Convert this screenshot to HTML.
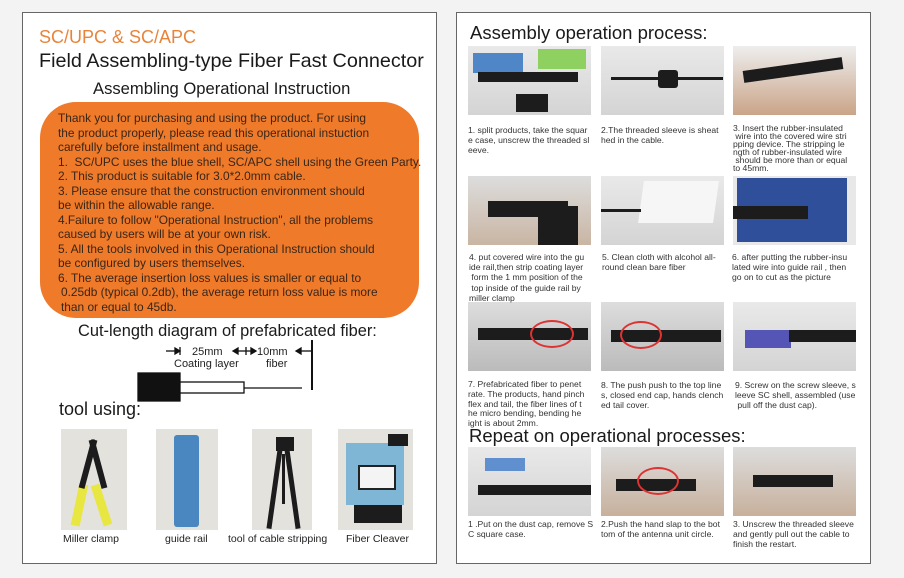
<!DOCTYPE html>
<html><head><meta charset="utf-8"><style>
*{margin:0;padding:0;box-sizing:border-box}
body{width:904px;height:578px;background:#f3f3f3;position:relative;overflow:hidden;font-family:"Liberation Sans",sans-serif;color:#222}
.panel{position:absolute;background:#fff;border:1px solid #666}
.a{position:absolute;white-space:nowrap}
.ob{position:absolute;left:40px;top:102px;width:379px;height:216px;background:#ee7a2a;border-radius:36px}
.ob div{position:absolute;left:18px;font-size:11.9px;color:#3a2618;white-space:nowrap}
.img{position:absolute;width:123px;height:69px;background:linear-gradient(#e9e9e9,#d4d4d4);overflow:hidden}
.cap{position:absolute;font-size:8.6px;line-height:10.2px;color:#333;width:126px}
.tool{position:absolute;top:429px;height:101px;background:#e4e2dc;overflow:hidden}
.tl{position:absolute;top:533px;font-size:10.5px;color:#222;white-space:nowrap}
.blk{position:absolute;background:#1c1c1c}
</style></head><body>
<div class="panel" style="left:22px;top:12px;width:415px;height:552px"></div>
<div class="panel" style="left:456px;top:12px;width:415px;height:552px"></div>

<div class="a" style="left:39px;top:27px;font-size:18px;color:#e8843a">SC/UPC &amp; SC/APC</div>
<div class="a" style="left:39px;top:50px;font-size:19.8px;color:#1a1a1a">Field Assembling-type Fiber Fast Connector</div>
<div class="a" style="left:93px;top:79px;font-size:16.6px;color:#1a1a1a">Assembling Operational Instruction</div>
<div class="ob">
<div style="top:9px">Thank you for purchasing and using the product. For using</div>
<div style="top:24px">the product properly, please read this operational instuction</div>
<div style="top:38px">carefully before installment and usage.</div>
<div style="top:53px">1.&nbsp; SC/UPC uses the blue shell, SC/APC shell using the Green Party.</div>
<div style="top:67px">2. This product is suitable for 3.0*2.0mm cable.</div>
<div style="top:82px">3. Please ensure that the construction environment should</div>
<div style="top:96px">be within the allowable range.</div>
<div style="top:111px">4.Failure to follow "Operational Instruction", all the problems</div>
<div style="top:125px">caused by users will be at your own risk.</div>
<div style="top:140px">5. All the tools involved in this Operational Instruction should</div>
<div style="top:154px">be configured by users themselves.</div>
<div style="top:169px">6. The average insertion loss values is smaller or equal to</div>
<div style="top:183px;left:21px">0.25db (typical 0.2db), the average return loss value is more</div>
<div style="top:198px;left:21px">than or equal to 45db.</div>
</div>

<div class="a" style="left:78px;top:322px;font-size:16.4px;color:#1a1a1a">Cut-length diagram of prefabricated fiber:</div>
<svg style="position:absolute;left:0;top:0" width="450" height="420">
<g stroke="#111" stroke-width="1.3" fill="#111">
<line x1="166" y1="351" x2="180" y2="351"/><polygon points="180,351 175,348 175,354"/><line x1="180" y1="347" x2="180" y2="355"/>
<line x1="233" y1="351" x2="246" y2="351"/><polygon points="233,351 238,348 238,354"/><line x1="246" y1="351" x2="256" y2="351"/><polygon points="256,351 251,348 251,354"/><line x1="246" y1="347" x2="246" y2="355"/>
<line x1="296" y1="351" x2="312" y2="351"/><polygon points="296,351 301,348 301,354"/>
<line x1="312" y1="340" x2="312" y2="390" stroke-width="2"/>
<rect x="138" y="373" width="42" height="28"/>
<rect x="180" y="382" width="64" height="11" fill="#fff"/>
<line x1="244" y1="388" x2="302" y2="388"/>
</g>
<text x="192" y="355" font-size="11" font-family="Liberation Sans" fill="#222">25mm</text>
<text x="257" y="355" font-size="11" font-family="Liberation Sans" fill="#222">10mm</text>
<text x="174" y="367" font-size="11" font-family="Liberation Sans" fill="#222">Coating layer</text>
<text x="266" y="367" font-size="11" font-family="Liberation Sans" fill="#222">fiber</text>
</svg>
<div class="a" style="left:59px;top:399px;font-size:18px;color:#1a1a1a">tool using:</div>

<div class="tool" style="left:61px;width:66px"><div style="position:absolute;left:14px;top:55px;width:9px;height:42px;background:#e8e640;transform:rotate(12deg)"></div><div style="position:absolute;left:36px;top:55px;width:9px;height:42px;background:#e8e640;transform:rotate(-18deg)"></div><div class="blk" style="left:24px;top:10px;width:6px;height:50px;transform:rotate(15deg)"></div><div class="blk" style="left:34px;top:10px;width:6px;height:50px;transform:rotate(-15deg)"></div></div>
<div class="tool" style="left:156px;width:62px"><div style="position:absolute;left:18px;top:6px;width:25px;height:92px;background:#4a86c0;border-radius:3px"></div></div>
<div class="tool" style="left:252px;width:60px"><div class="blk" style="left:24px;top:8px;width:18px;height:14px"></div><div class="blk" style="left:20px;top:20px;width:5px;height:80px;transform:rotate(8deg)"></div><div class="blk" style="left:38px;top:20px;width:5px;height:80px;transform:rotate(-8deg)"></div><div class="blk" style="left:30px;top:25px;width:3px;height:50px"></div></div>
<div class="tool" style="left:338px;width:75px"><div style="position:absolute;left:8px;top:14px;width:58px;height:62px;background:#7fb6d6"></div><div class="blk" style="left:20px;top:36px;width:38px;height:25px;background:#f4f4f4;border:2px solid #222"></div><div class="blk" style="left:16px;top:76px;width:48px;height:18px"></div><div class="blk" style="left:50px;top:5px;width:20px;height:12px"></div></div>
<div class="tl" style="left:63px">Miller clamp</div>
<div class="tl" style="left:165px">guide rail</div>
<div class="tl" style="left:228px">tool of cable stripping</div>
<div class="tl" style="left:346px">Fiber Cleaver</div>

<div class="a" style="left:470px;top:22px;font-size:18.5px;color:#1a1a1a">Assembly operation process:</div>
<div class="a" style="left:469px;top:425px;font-size:18.5px;color:#1a1a1a">Repeat on operational processes:</div>

<!-- row1 -->
<div class="img" style="left:468px;top:46px"><div style="position:absolute;left:5px;top:7px;width:50px;height:20px;background:#4f86c8"></div><div style="position:absolute;left:70px;top:3px;width:48px;height:20px;background:#8ed160"></div><div class="blk" style="left:10px;top:26px;width:100px;height:10px"></div><div class="blk" style="left:48px;top:48px;width:32px;height:18px"></div></div>
<div class="img" style="left:601px;top:46px"><div class="blk" style="left:10px;top:31px;width:112px;height:3px"></div><div class="blk" style="left:57px;top:24px;width:20px;height:18px;border-radius:3px"></div></div>
<div class="img" style="left:733px;top:46px;background:linear-gradient(#eee,#caa488)"><div class="blk" style="left:10px;top:18px;width:100px;height:12px;transform:rotate(-8deg)"></div></div>
<!-- row2 -->
<div class="img" style="left:468px;top:176px;background:linear-gradient(#ddd,#c9b5a3)"><div class="blk" style="left:20px;top:25px;width:80px;height:16px"></div><div class="blk" style="left:70px;top:30px;width:40px;height:39px"></div></div>
<div class="img" style="left:601px;top:176px"><div style="position:absolute;left:40px;top:5px;width:75px;height:42px;background:#f6f6f6;transform:skewX(-8deg)"></div><div class="blk" style="left:0;top:33px;width:40px;height:3px"></div></div>
<div class="img" style="left:733px;top:176px;background:#e8e8e8"><div style="position:absolute;left:4px;top:2px;width:110px;height:64px;background:#2f4f9a"></div><div class="blk" style="left:0;top:30px;width:75px;height:13px"></div></div>
<!-- row3 -->
<div class="img" style="left:468px;top:302px;background:linear-gradient(#ddd,#bbb)"><div class="blk" style="left:10px;top:26px;width:110px;height:12px"></div><div style="position:absolute;left:62px;top:18px;width:44px;height:28px;border:2px solid #d33;border-radius:50%"></div></div>
<div class="img" style="left:601px;top:302px;background:linear-gradient(#ddd,#bbb)"><div class="blk" style="left:10px;top:28px;width:110px;height:12px"></div><div style="position:absolute;left:19px;top:19px;width:42px;height:28px;border:2px solid #d33;border-radius:50%"></div></div>
<div class="img" style="left:733px;top:302px"><div style="position:absolute;left:12px;top:28px;width:46px;height:18px;background:#5555b5"></div><div class="blk" style="left:56px;top:28px;width:67px;height:12px"></div></div>
<!-- row4 -->
<div class="img" style="left:468px;top:447px"><div style="position:absolute;left:17px;top:11px;width:40px;height:13px;background:#5f8fce"></div><div class="blk" style="left:10px;top:38px;width:113px;height:10px"></div></div>
<div class="img" style="left:601px;top:447px;background:linear-gradient(#ddd,#c7b09c)"><div class="blk" style="left:15px;top:32px;width:80px;height:12px"></div><div style="position:absolute;left:36px;top:20px;width:42px;height:28px;border:2px solid #d33;border-radius:50%"></div></div>
<div class="img" style="left:733px;top:447px;background:linear-gradient(#ddd,#c7b09c)"><div class="blk" style="left:20px;top:28px;width:80px;height:12px"></div></div>

<div class="cap" style="left:468px;top:125px">1. split products, take the squar<br>e case, unscrew the threaded sl<br>eeve.</div>
<div class="cap" style="left:601px;top:125px">2.The threaded sleeve is sheat<br>hed in the cable.</div>
<div class="cap" style="left:733px;top:124px;line-height:8px">3. Insert the rubber-insulated<br>&nbsp;wire into the covered wire stri<br>pping device. The stripping le<br>ngth of rubber-insulated wire<br>&nbsp;should be more than or equal<br>to 45mm.</div>
<div class="cap" style="left:469px;top:252px">4. put covered wire into the gu<br>ide rail,then strip coating layer<br>&nbsp;form the 1 mm position of the<br>&nbsp;top inside of the guide rail by<br>miller clamp</div>
<div class="cap" style="left:602px;top:252px">5. Clean cloth with alcohol all-<br>round clean bare fiber</div>
<div class="cap" style="left:732px;top:252px">6. after putting the rubber-insu<br>lated wire into guide rail , then<br>go on to cut as the picture</div>
<div class="cap" style="left:468px;top:380px;line-height:9.8px">7. Prefabricated fiber to penet<br>rate. The products, hand pinch<br>flex and tail, the fiber lines of t<br>he micro bending, bending he<br>ight is about 2mm.</div>
<div class="cap" style="left:601px;top:380px">8. The push push to the top line<br>s, closed end cap, hands clench<br>ed tail cover.</div>
<div class="cap" style="left:735px;top:380px">9. Screw on the screw sleeve, s<br>leeve SC shell, assembled (use<br>&nbsp;pull off the dust cap).</div>
<div class="cap" style="left:468px;top:519px">1 .Put on the dust cap, remove S<br>C square case.</div>
<div class="cap" style="left:601px;top:519px">2.Push the hand slap to the bot<br>tom of the antenna unit circle.</div>
<div class="cap" style="left:733px;top:519px">3. Unscrew the threaded sleeve<br>and gently pull out the cable to<br>finish the restart.</div>
</body></html>
